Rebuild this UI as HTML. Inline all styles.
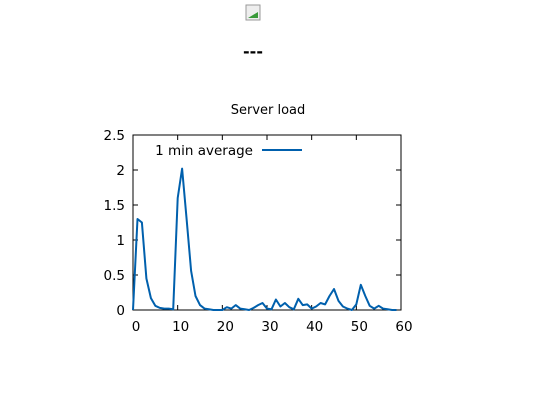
<!DOCTYPE html>
<html><head><meta charset="utf-8"><style>
body{margin:0;background:#fff;width:548px;height:400px;overflow:hidden;font-family:"DejaVu Sans","Liberation Sans",sans-serif}
</style></head><body>
<svg width="548" height="400" style="position:absolute;left:0;top:0;font-family:'DejaVu Sans','Liberation Sans',sans-serif">
<g>
<rect x="246" y="5" width="14" height="15" fill="#eee" stroke="#999" stroke-width="1"/>
<path d="M248 18 L258 12 L258 18 Z" fill="#3a9a3a"/>
</g>
<text x="253" y="57" text-anchor="middle" font-size="16" font-weight="bold" fill="#000">---</text>
<text x="268" y="114" text-anchor="middle" font-size="13" fill="#000">Server load</text>
<rect x="133" y="135" width="268" height="175" fill="none" stroke="#000" stroke-width="1"/>
<g id="axes" font-size="13.5" fill="#000"></g>
<path id="line" fill="none" stroke="#0060ad" stroke-width="2" stroke-linejoin="round"/>
<text x="253" y="155" text-anchor="end" font-size="13.5">1 min average</text>
<line x1="262" y1="150" x2="302" y2="150" stroke="#0060ad" stroke-width="2"/>
</svg>
<script>
const minutes=[];for(let i=0;i<60;i++)minutes.push(i);
const loads=[0,1.3,1.25,0.45,0.17,0.06,0.03,0.02,0.02,0.01,1.6,2.02,1.3,0.56,0.2,0.07,0.02,0.01,0,0,0,0.04,0.02,0.07,0.02,0.01,0,0.03,0.07,0.1,0.02,0.01,0.15,0.05,0.1,0.04,0.01,0.16,0.07,0.08,0.02,0.05,0.1,0.08,0.2,0.3,0.13,0.05,0.02,0,0.08,0.36,0.2,0.06,0.02,0.06,0.02,0.01,0,0];
const xTicks=[0,10,20,30,40,50,60];
const yTicks=[0,0.5,1,1.5,2,2.5];
const yLabels=["0","0.5","1","1.5","2","2.5"];
const X=v=>133+v*268/60, Y=v=>310-v*70;
const ns="http://www.w3.org/2000/svg",g=document.getElementById('axes');
function mk(t,a){const e=document.createElementNS(ns,t);for(const k in a)e.setAttribute(k,a[k]);g.appendChild(e);return e;}
xTicks.forEach(v=>{
const t=mk('line',{x1:X(v),x2:X(v),y1:310,y2:305,stroke:'#000'});


const t2=mk('line',{x1:X(v),x2:X(v),y1:135,y2:140,stroke:'#000'});


const l=mk('text',{x:X(v)+3,y:331,'text-anchor':'middle'});l.textContent=v;


});
yTicks.forEach((v,i)=>{
const t=mk('line',{x1:133,x2:138,y1:Y(v),y2:Y(v),stroke:'#000'});


const t2=mk('line',{x1:401,x2:396,y1:Y(v),y2:Y(v),stroke:'#000'});


const l=mk('text',{x:125,y:Y(v)+5,'text-anchor':'end'});l.textContent=yLabels[i];


});
document.getElementById('line').setAttribute('d',minutes.map((m,i)=>(i?'L':'M')+X(m).toFixed(1)+' '+Y(loads[i]).toFixed(1)).join(' '));
</script>
</body></html>
